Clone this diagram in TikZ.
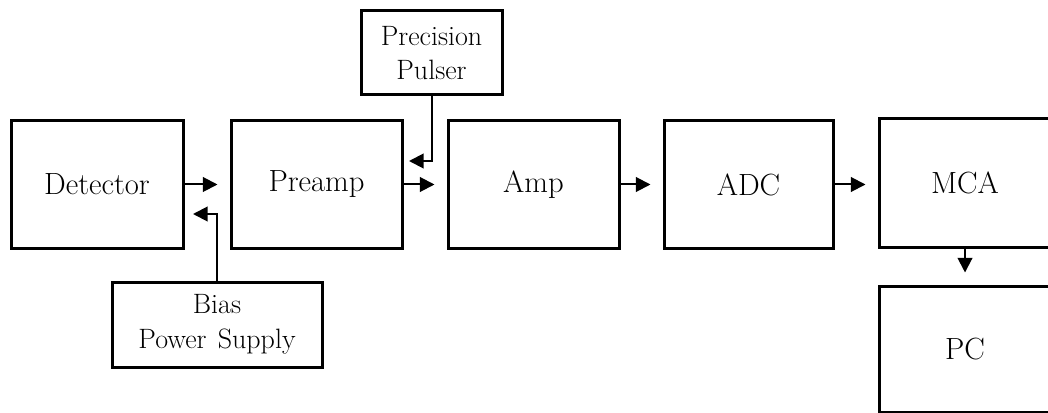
\documentclass[tikz,border=0pt]{standalone}
\usetikzlibrary{arrows.meta}
\begin{document}
\begin{tikzpicture}[x=0.75pt,y=-0.75pt,
  box/.style={draw,line width=2.25pt,inner sep=0pt,align=center,
    font=\fontsize{23}{27}\selectfont},
  smallbox/.style={box,font=\fontsize{21}{26}\selectfont},
  arr/.style={line width=1.5pt,-{Triangle[length=11pt,width=11pt]}},
  gap/.style={shorten >=9pt}]
\useasboundingbox (0,0) rectangle (1048,413);
\clip (0,0) rectangle (1048,413);
\node[box,minimum width=129pt,minimum height=95.25pt] (det) at (97,184.5) {Detector};
\node[box,minimum width=128.25pt,minimum height=95.25pt] (pre) at (316.5,184.5) {Preamp};
\node[box,minimum width=128.25pt,minimum height=95.25pt] (amp) at (533.5,184.5) {Amp};
\node[box,minimum width=126.75pt,minimum height=95.25pt] (adc) at (748.5,184.5) {ADC};
\node[box,minimum width=129pt,minimum height=96pt] (mca) at (965,183) {MCA};
\node[box,minimum width=129pt,minimum height=94.5pt] (pc) at (965,349) {PC};
\node[smallbox,minimum width=105.75pt,minimum height=63pt] (pul) at (431.5,53) {Precision\\Pulser};
\node[smallbox,minimum width=157.5pt,minimum height=63.75pt] (bias) at (217,324.5) {Bias\\Power\hspace{0.4em}Supply};
\coordinate (pulin) at (409,161);
\coordinate (biasin) at (193,214);
\draw[arr,gap] (det.east) -- (pre.west);
\draw[arr,gap] (pre.east) -- (amp.west);
\draw[arr,gap] (amp.east) -- (adc.west);
\draw[arr,gap] (adc.east) -- (adc.east -| mca.west);
\draw[arr,gap] (mca.south) -- (pc.north);
\draw[arr] (pul.south) |- (pulin);
\draw[arr] (bias.north) |- (biasin);
\end{tikzpicture}
\end{document}
